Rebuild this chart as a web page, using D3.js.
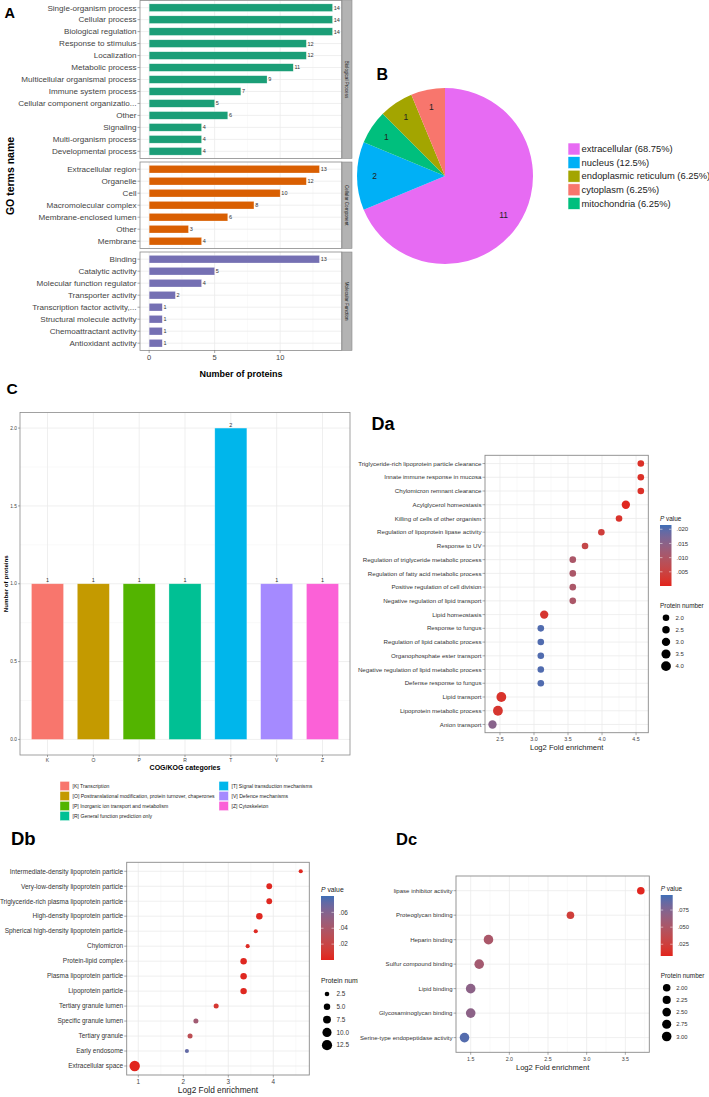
<!DOCTYPE html>
<html>
<head>
<meta charset="utf-8">
<script src="https://cdn.jsdelivr.net/npm/d3@7"></script>
<style>
body{margin:0;background:#fff;}
svg{display:block;font-family:"Liberation Sans",Arial,Helvetica,sans-serif;}
</style>
</head>
<body>
<svg id="fig" width="709" height="1097"></svg>
<script>
// ---------- A: GO terms ----------
var bpTerms = ["Single-organism process","Cellular process","Biological regulation","Response to stimulus","Localization","Metabolic process","Multicellular organismal process","Immune system process","Cellular component organizatio...","Other","Signaling","Multi-organism process","Developmental process"];
var bpCounts = [14,14,14,12,12,11,9,7,5,6,4,4,4];
var ccTerms = ["Extracellular region","Organelle","Cell","Macromolecular complex","Membrane-enclosed lumen","Other","Membrane"];
var ccCounts = [13,12,10,8,6,3,4];
var mfTerms = ["Binding","Catalytic activity","Molecular function regulator","Transporter activity","Transcription factor activity,...","Structural molecule activity","Chemoattractant activity","Antioxidant activity"];
var mfCounts = [13,5,4,2,1,1,1,1];
var goTicks = [0,5,10];

// ---------- B: subcellular location ----------
var locNames = ["extracellular","nucleus","mitochondria","endoplasmic reticulum","cytoplasm"];
var locCounts = [11,2,1,1,1];
var locLegendOrder = ["extracellular","nucleus","endoplasmic reticulum","cytoplasm","mitochondria"];

// ---------- C: COG/KOG ----------
var cogCodes = ["K","O","P","R","T","V","Z"];
var cogCounts = [1,1,1,1,2,1,1];
var cogNames = ["[K] Transcription","[O] Posttranslational modification, protein turnover, chaperones","[P] Inorganic ion transport and metabolism","[R] General function prediction only","[T] Signal transduction mechanisms","[V] Defence mechanisms","[Z] Cytoskeleton"];
var cogTicks = [0,0.5,1,1.5,2];

// ---------- Da ----------
var daTerms = ["Triglyceride-rich lipoprotein particle clearance","Innate immune response in mucosa","Chylomicron remnant clearance","Acylglycerol homeostasis","Killing of cells of other organism","Regulation of lipoprotein lipase activity","Response to UV","Regulation of triglyceride metabolic process","Regulation of fatty acid metabolic process","Positive regulation of cell division","Negative regulation of lipid transport","Lipid homeostasis","Response to fungus","Regulation of lipid catabolic process","Organophosphate ester transport","Negative regulation of lipid metabolic process","Defense response to fungus","Lipid transport","Lipoprotein metabolic process","Anion transport"];
var daFold = [4.57,4.57,4.57,4.35,4.25,3.99,3.75,3.57,3.57,3.57,3.57,3.15,3.10,3.10,3.10,3.10,3.10,2.52,2.47,2.39];
var daP = [0.0015,0.0015,0.0015,0.0005,0.002,0.004,0.006,0.0105,0.0105,0.0105,0.0105,0.0025,0.0205,0.0205,0.0205,0.0205,0.0205,0.002,0.0025,0.0155];
var daCount = [2,2,2,3,2,2,2,2,2,2,2,3,2,2,2,2,2,4,4,3];
var daXTicks = [2.5,3,3.5,4,4.5];
var daPTicks = [0.005,0.010,0.015,0.020];
var daSizeBreaks = [2,2.5,3,3.5,4];

// ---------- Db ----------
var dbTerms = ["Intermediate-density lipoprotein particle","Very-low-density lipoprotein particle","Triglyceride-rich plasma lipoprotein particle","High-density lipoprotein particle","Spherical high-density lipoprotein particle","Chylomicron","Protein-lipid complex","Plasma lipoprotein particle","Lipoprotein particle","Tertiary granule lumen","Specific granule lumen","Tertiary granule","Early endosome","Extracellular space"];
var dbFold = [4.61,3.91,3.91,3.69,3.61,3.43,3.34,3.34,3.34,2.73,2.28,2.15,2.08,0.92];
var dbP = [0.002,0.002,0.002,0.002,0.003,0.004,0.002,0.002,0.002,0.01,0.045,0.028,0.072,0.001];
var dbCount = [2,4,4,5,2,2,5,5,5,3,3,3,2,13];
var dbXTicks = [1,2,3,4];
var dbPTicks = [0.02,0.04,0.06];
var dbSizeBreaks = [2.5,5,7.5,10,12.5];

// ---------- Dc ----------
var dcTerms = ["lipase inhibitor activity","Proteoglycan binding","Heparin binding","Sulfur compound binding","Lipid binding","Glycosaminoglycan binding","Serine-type endopeptidase activity"];
var dcFold = [3.70,2.79,1.73,1.61,1.50,1.50,1.42];
var dcP = [0.009,0.024,0.052,0.056,0.07,0.07,0.092];
var dcCount = [2,2,3,3,3,3,3];
var dcXTicks = [1.5,2,2.5,3,3.5];
var dcPTicks = [0.025,0.050,0.075];
var dcSizeBreaks = [2,2.25,2.5,2.75,3];

var svg = d3.select("#fig");
var gridCol = "#ebebeb", borderCol = "#8a8a8a", axisText = "#444";

function panelLabel(txt, x, y, size) {
  svg.append("text").attr("x", x).attr("y", y)
    .style("font-size", size + "px").style("font-weight", "bold").text(txt);
}

// ================= Panel A =================
var gA = svg.append("g");
var xA = d3.scaleLinear().domain([-0.7, 14.7]).range([140, 341.7]);
var facets = [
  {name: "Biological Process", terms: bpTerms, counts: bpCounts, color: "#1B9E77", y0: 0.5, y1: 158.5},
  {name: "Cellular Component", terms: ccTerms, counts: ccCounts, color: "#D95F02", y0: 162, y1: 248.4},
  {name: "Molecular Function", terms: mfTerms, counts: mfCounts, color: "#7570B3", y0: 252, y1: 350.4}
];
facets.forEach(function(f) {
  var y = d3.scalePoint().domain(f.terms).range([f.y0, f.y1]).padding(0.6);
  var g = gA.append("g");
  // grid
  g.selectAll(".minor").data([2.5, 7.5, 12.5]).enter().append("line")
    .attr("x1", function(d) { return xA(d); }).attr("x2", function(d) { return xA(d); })
    .attr("y1", f.y0).attr("y2", f.y1).attr("stroke", "#f2f2f2").attr("stroke-width", 0.5);
  g.selectAll(".major").data(goTicks).enter().append("line")
    .attr("x1", function(d) { return xA(d); }).attr("x2", function(d) { return xA(d); })
    .attr("y1", f.y0).attr("y2", f.y1).attr("stroke", gridCol).attr("stroke-width", 0.8);
  g.selectAll(".hg").data(f.terms).enter().append("line")
    .attr("x1", 140).attr("x2", 341.7)
    .attr("y1", function(d) { return y(d); }).attr("y2", function(d) { return y(d); })
    .attr("stroke", gridCol).attr("stroke-width", 0.8);
  // bars
  g.selectAll("rect.bar").data(f.terms).enter().append("rect")
    .attr("x", xA(0))
    .attr("y", function(d) { return y(d) - 3.8; })
    .attr("width", function(d, i) { return xA(f.counts[i]) - xA(0); })
    .attr("height", 7.6)
    .attr("fill", f.color).attr("stroke", "#fff").attr("stroke-opacity", 0.5).attr("stroke-width", 0.5);
  g.selectAll("text.val").data(f.terms).enter().append("text")
    .attr("x", function(d, i) { return xA(f.counts[i]) + 1.2; })
    .attr("y", function(d) { return y(d); }).attr("dy", "0.35em")
    .style("font-size", "5.5px").attr("fill", "#333")
    .text(function(d, i) { return f.counts[i]; });
  // y axis
  g.selectAll("line.tk").data(f.terms).enter().append("line")
    .attr("x1", 137.5).attr("x2", 140)
    .attr("y1", function(d) { return y(d); }).attr("y2", function(d) { return y(d); })
    .attr("stroke", "#555").attr("stroke-width", 0.5);
  g.selectAll("text.lab").data(f.terms).enter().append("text")
    .attr("x", 136.5).attr("y", function(d) { return y(d); }).attr("dy", "0.35em")
    .attr("text-anchor", "end").style("font-size", "8.1px").attr("fill", axisText)
    .text(function(d) { return d; });
  g.append("rect").attr("x", 140).attr("y", f.y0).attr("width", 201.7).attr("height", f.y1 - f.y0)
    .attr("fill", "none").attr("stroke", borderCol).attr("stroke-width", 0.8);
  // strip
  g.append("rect").attr("x", 342).attr("y", f.y0).attr("width", 10).attr("height", f.y1 - f.y0)
    .attr("fill", "#b3b3b3").attr("stroke", "#8a8a8a").attr("stroke-width", 0.6);
  g.append("text")
    .attr("transform", "translate(346.8," + ((f.y0 + f.y1) / 2) + ") rotate(90)")
    .attr("text-anchor", "middle").attr("dy", "0.35em")
    .style("font-size", "4.6px").attr("fill", "#1a1a1a").text(f.name);
});
// x axis of A
gA.selectAll("line.xt").data(goTicks).enter().append("line")
  .attr("x1", function(d) { return xA(d); }).attr("x2", function(d) { return xA(d); })
  .attr("y1", 350.4).attr("y2", 353).attr("stroke", "#555").attr("stroke-width", 0.5);
gA.selectAll("text.xt").data(goTicks).enter().append("text")
  .attr("x", function(d) { return xA(d); }).attr("y", 359.5).attr("text-anchor", "middle")
  .style("font-size", "7.5px").attr("fill", axisText).text(function(d) { return d; });
gA.append("text").attr("x", 241).attr("y", 377).attr("text-anchor", "middle")
  .style("font-size", "9px").style("font-weight", "bold").text("Number of proteins");
gA.append("text").attr("transform", "translate(14,176) rotate(-90)").attr("text-anchor", "middle")
  .style("font-size", "10.5px").style("font-weight", "bold").text("GO terms name");
panelLabel("A", 4.5, 17.7, 14.5);

// ================= Panel B =================
var locColor = d3.scaleOrdinal().domain(["extracellular","nucleus","endoplasmic reticulum","cytoplasm","mitochondria"])
  .range(["#E76BF3","#00B0F6","#A3A500","#F8766D","#00BF7D"]);
var total = d3.sum(locCounts);
var pie = d3.pie().sort(null).value(function(d) { return d; });
var arcs = pie(locCounts);
var R = 88;
var arc = d3.arc().innerRadius(0).outerRadius(R);
var labelArc = d3.arc().innerRadius(R * 0.8).outerRadius(R * 0.8);
var gB = svg.append("g").attr("transform", "translate(445,176)");
gB.selectAll("path").data(arcs).enter().append("path")
  .attr("d", arc).attr("fill", function(d, i) { return locColor(locNames[i]); });
gB.selectAll("text").data(arcs).enter().append("text")
  .attr("transform", function(d) { return "translate(" + labelArc.centroid(d) + ")"; })
  .attr("text-anchor", "middle").attr("dy", "0.35em")
  .style("font-size", "8.5px").attr("fill", "#222")
  .text(function(d) { return d.data; });
var fmtPct = function(v) { return (+(v * 100).toFixed(2)) + "%"; };
var gBL = svg.append("g");
locLegendOrder.forEach(function(n, i) {
  var cy = 149 + i * 13.6;
  gBL.append("rect").attr("x", 568).attr("y", cy - 6).attr("width", 12).attr("height", 12)
    .attr("fill", locColor(n)).attr("stroke", "#fff").attr("stroke-width", 0.6);
  gBL.append("text").attr("x", 581.5).attr("y", cy).attr("dy", "0.35em")
    .style("font-size", "9.4px").attr("fill", "#222")
    .text(n + " (" + fmtPct(locCounts[locNames.indexOf(n)] / total) + ")");
});
panelLabel("B", 376.5, 79.5, 16);

// ================= Panel C =================
var gC = svg.append("g");
var cX0 = 20, cX1 = 350, cY0 = 412.5, cY1 = 755;
var xC = d3.scalePoint().domain(cogCodes).range([cX0, cX1]).padding(0.6);
var yC = d3.scaleLinear().domain([-0.1, 2.1]).range([cY1, cY0]);
var cogColor = d3.scaleOrdinal().domain(cogCodes)
  .range(["#F8766D","#C49A00","#53B400","#00C094","#00B6EB","#A58AFF","#FB61D7"]);
gC.selectAll("line.hm").data([0.25,0.75,1.25,1.75]).enter().append("line")
  .attr("x1", cX0).attr("x2", cX1).attr("y1", function(d) { return yC(d); }).attr("y2", function(d) { return yC(d); })
  .attr("stroke", "#f3f3f3").attr("stroke-width", 0.5);
gC.selectAll("line.hg").data(cogTicks).enter().append("line")
  .attr("x1", cX0).attr("x2", cX1).attr("y1", function(d) { return yC(d); }).attr("y2", function(d) { return yC(d); })
  .attr("stroke", gridCol).attr("stroke-width", 0.8);
gC.selectAll("line.vg").data(cogCodes).enter().append("line")
  .attr("y1", cY0).attr("y2", cY1).attr("x1", function(d) { return xC(d); }).attr("x2", function(d) { return xC(d); })
  .attr("stroke", gridCol).attr("stroke-width", 0.8);
var bw = xC.step() * 0.7;
gC.selectAll("rect.bar").data(cogCodes).enter().append("rect")
  .attr("x", function(d) { return xC(d) - bw / 2; })
  .attr("y", function(d, i) { return yC(cogCounts[i]); })
  .attr("width", bw)
  .attr("height", function(d, i) { return yC(0) - yC(cogCounts[i]); })
  .attr("fill", function(d) { return cogColor(d); })
  .attr("stroke", "#fff").attr("stroke-opacity", 0.5).attr("stroke-width", 0.6);
gC.selectAll("text.val").data(cogCodes).enter().append("text")
  .attr("x", function(d) { return xC(d); })
  .attr("y", function(d, i) { return yC(cogCounts[i]) - 1.5; })
  .attr("text-anchor", "middle").style("font-size", "5.5px").attr("fill", "#333")
  .text(function(d, i) { return cogCounts[i]; });
gC.append("rect").attr("x", cX0).attr("y", cY0).attr("width", cX1 - cX0).attr("height", cY1 - cY0)
  .attr("fill", "none").attr("stroke", borderCol).attr("stroke-width", 0.8);
gC.selectAll("line.yt").data(cogTicks).enter().append("line")
  .attr("x1", cX0 - 2).attr("x2", cX0).attr("y1", function(d) { return yC(d); }).attr("y2", function(d) { return yC(d); })
  .attr("stroke", "#555").attr("stroke-width", 0.5);
gC.selectAll("text.yt").data(cogTicks).enter().append("text")
  .attr("x", cX0 - 3).attr("y", function(d) { return yC(d); }).attr("dy", "0.35em")
  .attr("text-anchor", "end").style("font-size", "4.8px").attr("fill", axisText)
  .text(d3.format(".1f"));
gC.selectAll("line.xt").data(cogCodes).enter().append("line")
  .attr("x1", function(d) { return xC(d); }).attr("x2", function(d) { return xC(d); })
  .attr("y1", cY1).attr("y2", cY1 + 2).attr("stroke", "#555").attr("stroke-width", 0.5);
gC.selectAll("text.xt").data(cogCodes).enter().append("text")
  .attr("x", function(d) { return xC(d); }).attr("y", 762).attr("text-anchor", "middle")
  .style("font-size", "5px").attr("fill", axisText).text(function(d) { return d; });
gC.append("text").attr("x", 185).attr("y", 770).attr("text-anchor", "middle")
  .style("font-size", "7px").style("font-weight", "bold").text("COG/KOG categories");
gC.append("text").attr("transform", "translate(8," + ((cY0 + cY1) / 2) + ") rotate(-90)")
  .attr("text-anchor", "middle").style("font-size", "6.2px").style("font-weight", "bold")
  .text("Number of proteins");
// legend of C
cogCodes.forEach(function(c, i) {
  var col = i < 4 ? 0 : 1, row = i < 4 ? i : i - 4;
  var kx = col ? 219 : 60, cy = 786 + row * 10;
  gC.append("rect").attr("x", kx).attr("y", cy - 4.6).attr("width", 9.4).attr("height", 9.2)
    .attr("fill", cogColor(c)).attr("stroke", "#fff").attr("stroke-width", 0.4);
  gC.append("text").attr("x", kx + 12.5).attr("y", cy).attr("dy", "0.35em")
    .style("font-size", "5.1px").attr("fill", "#222").text(cogNames[i]);
});
panelLabel("C", 6.5, 394, 15.5);

// ================= dot plots (Da, Db, Dc) =================
function dotPlot(o) {
  var g = svg.append("g");
  if (o.clip) {
    svg.append("clipPath").attr("id", o.clip.id).append("rect")
      .attr("x", 0).attr("y", o.y0 - 60).attr("width", o.clip.x).attr("height", 400);
    g.attr("clip-path", "url(#" + o.clip.id + ")");
  }
  var x = d3.scaleLinear().domain(o.xDomain).range([o.x0, o.x1]);
  var y = d3.scalePoint().domain(o.terms).range([o.y0, o.y1]).padding(0.6);
  var col = d3.scaleLinear().domain(o.pDomain).range(["#E2231C", "#3F6EB6"]).interpolate(d3.interpolateLab);
  var rs = d3.scaleLinear().domain([Math.sqrt(o.sAnchor[0]), Math.sqrt(o.sAnchor[1])]).range(o.rAnchor);
  var r = function(n) { return rs(Math.sqrt(n)); };

  g.selectAll("line.mn").data(o.xMinor).enter().append("line")
    .attr("x1", function(d) { return x(d); }).attr("x2", function(d) { return x(d); })
    .attr("y1", o.y0).attr("y2", o.y1).attr("stroke", "#f2f2f2").attr("stroke-width", 0.5);
  g.selectAll("line.mj").data(o.xTicks).enter().append("line")
    .attr("x1", function(d) { return x(d); }).attr("x2", function(d) { return x(d); })
    .attr("y1", o.y0).attr("y2", o.y1).attr("stroke", gridCol).attr("stroke-width", 0.8);
  g.selectAll("line.hg").data(o.terms).enter().append("line")
    .attr("x1", o.x0).attr("x2", o.x1)
    .attr("y1", function(d) { return y(d); }).attr("y2", function(d) { return y(d); })
    .attr("stroke", gridCol).attr("stroke-width", 0.8);
  g.append("rect").attr("x", o.x0).attr("y", o.y0).attr("width", o.x1 - o.x0).attr("height", o.y1 - o.y0)
    .attr("fill", "none").attr("stroke", borderCol).attr("stroke-width", 0.9);
  g.selectAll("circle.pt").data(o.terms).enter().append("circle")
    .attr("cx", function(d, i) { return x(o.fold[i]); })
    .attr("cy", function(d) { return y(d); })
    .attr("r", function(d, i) { return r(o.count[i]); })
    .attr("fill", function(d, i) { return col(o.pval[i]); });
  // axes
  g.selectAll("line.yt").data(o.terms).enter().append("line")
    .attr("x1", o.x0 - 2.5).attr("x2", o.x0)
    .attr("y1", function(d) { return y(d); }).attr("y2", function(d) { return y(d); })
    .attr("stroke", "#555").attr("stroke-width", 0.5);
  g.selectAll("text.yl").data(o.terms).enter().append("text")
    .attr("x", o.x0 - 3.5).attr("y", function(d) { return y(d); }).attr("dy", "0.35em")
    .attr("text-anchor", "end").style("font-size", o.yFont + "px").attr("fill", "#333")
    .text(function(d) { return d; });
  g.selectAll("line.xt").data(o.xTicks).enter().append("line")
    .attr("x1", function(d) { return x(d); }).attr("x2", function(d) { return x(d); })
    .attr("y1", o.y1).attr("y2", o.y1 + 2.5).attr("stroke", "#555").attr("stroke-width", 0.5);
  g.selectAll("text.xl").data(o.xTicks).enter().append("text")
    .attr("x", function(d) { return x(d); }).attr("y", o.xLabY).attr("text-anchor", "middle")
    .style("font-size", o.xFont + "px").attr("fill", "#444").text(o.xFmt);
  g.append("text").attr("x", (o.x0 + o.x1) / 2).attr("y", o.xTitleY).attr("text-anchor", "middle")
    .style("font-size", o.titleFont + "px").attr("fill", "#222").text("Log2 Fold enrichment");

  // colour bar legend
  var L = o.leg;
  var gid = o.id + "grad";
  var grad = svg.append("defs").append("linearGradient").attr("id", gid)
    .attr("x1", 0).attr("y1", 1).attr("x2", 0).attr("y2", 0);
  d3.range(0, 1.0001, 0.1).forEach(function(t) {
    grad.append("stop").attr("offset", t)
      .attr("stop-color", col(o.pDomain[0] + t * (o.pDomain[1] - o.pDomain[0])));
  });
  var pY = d3.scaleLinear().domain(o.pDomain).range([L.barY1, L.barY0]);
  var pt = g.append("text").attr("x", L.x).attr("y", L.barY0 - 4)
    .style("font-size", L.font + "px").attr("fill", "#222");
  pt.append("tspan").style("font-style", "italic").text("P");
  pt.append("tspan").text(" value");
  g.append("rect").attr("x", L.x).attr("y", L.barY0).attr("width", L.barW).attr("height", L.barY1 - L.barY0)
    .attr("fill", "url(#" + gid + ")");
  g.selectAll("line.pt").data(o.pTicks).enter().append("line")
    .attr("x1", L.x).attr("x2", L.x + 2.5).attr("y1", function(d) { return pY(d); }).attr("y2", function(d) { return pY(d); })
    .attr("stroke", "#fff").attr("stroke-width", 0.5);
  g.selectAll("line.pt2").data(o.pTicks).enter().append("line")
    .attr("x1", L.x + L.barW - 2.5).attr("x2", L.x + L.barW).attr("y1", function(d) { return pY(d); }).attr("y2", function(d) { return pY(d); })
    .attr("stroke", "#fff").attr("stroke-width", 0.5);
  g.selectAll("text.pl").data(o.pTicks).enter().append("text")
    .attr("x", L.x + L.barW + 5).attr("y", function(d) { return pY(d); }).attr("dy", "0.35em")
    .style("font-size", L.labFont + "px").attr("fill", "#333")
    .text(function(d) { return o.pFmt(d).replace(/^0/, ""); });
  // size legend
  g.append("text").attr("x", L.x).attr("y", L.sTitleY)
    .style("font-size", L.font + "px").attr("fill", "#222").text("Protein number");
  g.selectAll("circle.sz").data(o.sizeBreaks).enter().append("circle")
    .attr("cx", L.x + 6).attr("cy", function(d, i) { return L.sY0 + i * L.sStep; })
    .attr("r", function(d) { return r(d); }).attr("fill", "#000");
  g.selectAll("text.sz").data(o.sizeBreaks).enter().append("text")
    .attr("x", L.x + 15.5).attr("y", function(d, i) { return L.sY0 + i * L.sStep; }).attr("dy", "0.35em")
    .style("font-size", L.labFont + "px").attr("fill", "#333").text(o.sizeFmt);
}

dotPlot({
  id: "da", terms: daTerms, fold: daFold, pval: daP, count: daCount,
  x0: 485, x1: 648.3, y0: 455.3, y1: 732.7,
  xDomain: [2.28, 4.68], xTicks: daXTicks, xMinor: [2.75,3.25,3.75,4.25], xFmt: d3.format(".1f"),
  yFont: 6.15, xFont: 5.3, xLabY: 740.8, xTitleY: 749.5, titleFont: 7.6,
  pDomain: [0, 0.0215], pTicks: daPTicks, pFmt: d3.format(".3f"),
  sAnchor: [2, 4], rAnchor: [3.3, 4.9], sizeBreaks: daSizeBreaks, sizeFmt: d3.format(".1f"),
  leg: {x: 660, barY0: 525, barY1: 586, barW: 11.5, font: 6.4, labFont: 6,
        sTitleY: 608, sY0: 617.7, sStep: 12.1}
});
panelLabel("Da", 371.5, 430, 18);

dotPlot({
  id: "db", terms: dbTerms, fold: dbFold, pval: dbP, count: dbCount,
  x0: 126.7, x1: 309.3, y0: 862.3, y1: 1075,
  xDomain: [0.742, 4.8], xTicks: dbXTicks, xMinor: [1.5,2.5,3.5,4.5], xFmt: d3.format("d"),
  yFont: 6.5, xFont: 6.3, xLabY: 1084, xTitleY: 1093, titleFont: 8.3,
  pDomain: [0, 0.0806], pTicks: dbPTicks, pFmt: d3.format(".2f"),
  sAnchor: [2.5, 12.5], rAnchor: [2.3, 5.1], sizeBreaks: dbSizeBreaks, sizeFmt: d3.format(".1f"),
  leg: {x: 321, barY0: 896, barY1: 960, barW: 13, font: 6.8, labFont: 6.4,
        sTitleY: 983, sY0: 994, sStep: 12.8},
  clip: {id: "clipDb", x: 358}
});
panelLabel("Db", 11, 845, 18.5);

dotPlot({
  id: "dc", terms: dcTerms, fold: dcFold, pval: dcP, count: dcCount,
  x0: 456, x1: 649.3, y0: 876, y1: 1052.3,
  xDomain: [1.31, 3.81], xTicks: dcXTicks, xMinor: [1.75,2.25,2.75,3.25,3.75], xFmt: d3.format(".1f"),
  yFont: 6.05, xFont: 5.3, xLabY: 1061, xTitleY: 1069.5, titleFont: 7.6,
  pDomain: [0.0078, 0.097], pTicks: dcPTicks, pFmt: d3.format(".3f"),
  sAnchor: [2, 3], rAnchor: [3.8, 4.8], sizeBreaks: dcSizeBreaks, sizeFmt: d3.format(".2f"),
  leg: {x: 660.7, barY0: 895, barY1: 956, barW: 12, font: 6.4, labFont: 5.8,
        sTitleY: 978, sY0: 987.7, sStep: 12.2}
});
panelLabel("Dc", 396, 845, 16.5);
</script>
</body>
</html>
